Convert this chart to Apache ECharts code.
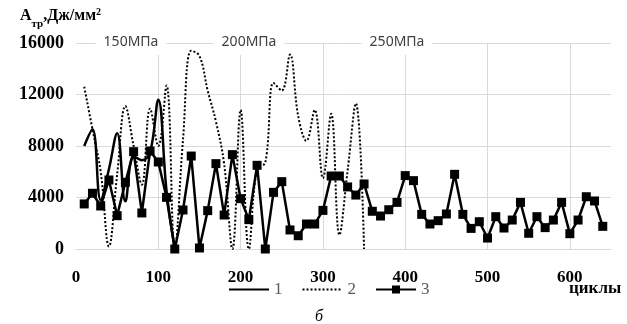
<!DOCTYPE html>
<html>
<head>
<meta charset="utf-8">
<script src="https://cdn.jsdelivr.net/npm/echarts@6/dist/echarts.min.js"></script>
<style>
  html, body { margin: 0; padding: 0; background: #fff; }
  #chart { width: 627px; height: 324px; }
</style>
</head>
<body>
<div id="chart"></div>
<script>
// кривая 1 (сплошная)
const cycles1 = [10, 20, 30, 40, 50, 60, 70, 80, 90, 100, 110, 120];
const work1 = [8000, 9300, 3800, 6200, 9000, 3700, 7200, 6900, 7500, 11600, 4500, 0];

// кривая 2 (пунктир)
const cycles2 = [10, 20, 30, 40, 50, 60, 70, 80, 90, 100, 110, 120, 130, 140, 150, 160, 170, 180,
  190, 200, 210, 220, 230, 240, 250, 260, 270, 280, 290, 300, 310, 320, 330, 340, 350];
const work2 = [12600, 9300, 6000, 200, 5800, 11100, 8000, 5000, 10900, 8000, 12700, 0, 8500, 15400,
  15000, 12300, 9900, 6600, 0, 10800, 0, 6300, 6700, 12900, 12300, 15100, 10300, 8400, 10800,
  5500, 10500, 1100, 6100, 11300, 0];

// кривая 3 (с маркерами)
const cycles3 = [10, 20, 30, 40, 50, 60, 70, 80, 90, 100, 110, 120, 130, 140, 150, 160, 170, 180,
  190, 200, 210, 220, 230, 240, 250, 260, 270, 280, 290, 300, 310, 320, 330, 340, 350, 360, 370,
  380, 390, 400, 410, 420, 430, 440, 450, 460, 470, 480, 490, 500, 510, 520, 530, 540, 550, 560,
  570, 580, 590, 600, 610, 620, 630, 640];
const work3 = [3500, 4330, 3340, 5360, 2590, 5180, 7560, 2800, 7610, 6760, 4010, 0, 3030, 7220, 80,
  2980, 6630, 2640, 7330, 3910, 2280, 6500, 0, 4400, 5230, 1480, 1030, 1940, 1940, 3000, 5670,
  5670, 4820, 4190, 5050, 2930, 2560, 3050, 3620, 5700, 5310, 2690, 1940, 2200, 2720, 5800, 2690,
  1600, 2120, 850, 2510, 1630, 2250, 3620, 1220, 2510, 1660, 2250, 3620, 1190, 2250, 4060, 3730, 1760];

const yTicks = [0, 4000, 8000, 12000, 16000];
const stressLabels = ['150МПа', '200МПа', '250МПа'];

const pairs = (xs, ys) => xs.map((x, i) => [x, ys[i]]);

const serif = '"Liberation Serif", "DejaVu Serif", serif';
const myChart = echarts.init(document.getElementById('chart'));

const labelStyle = (text, x) => ({
  type: 'text',
  x: x,
  y: 42,
  z: 100,
  style: {
    text: text,
    fill: '#404040',
    font: '14px "Noto Sans", sans-serif',
    align: 'center',
    verticalAlign: 'middle',
    backgroundColor: '#fff',
    padding: [6, 8]
  }
});

const option = {
  animation: false,
  grid: { left: 76, right: 16, top: 43, bottom: 75 },
  legend: {
    data: [
      { name: '1', itemStyle: { opacity: 0 } },
      { name: '2', itemStyle: { opacity: 0 } },
      { name: '3' }
    ],
    left: 228,
    top: 281,
    padding: 0,
    itemWidth: 40,
    itemHeight: 10,
    itemGap: 19,
    textStyle: { color: '#595959', fontFamily: serif, fontSize: 17 }
  },
  xAxis: {
    type: 'value',
    min: 0,
    max: 650,
    interval: 100,
    axisLine: { show: true, lineStyle: { color: '#d9d9d9', width: 1 } },
    axisTick: { show: false },
    axisLabel: {
      showMaxLabel: false,
      margin: 20,
      color: '#000',
      fontFamily: serif,
      fontWeight: 'bold',
      fontSize: 17,
      formatter: v => String(v)
    },
    splitLine: {
      show: true,
      showMinLine: false,
      showMaxLine: false,
      lineStyle: { color: '#d9d9d9', width: 1 }
    }
  },
  yAxis: {
    type: 'value',
    min: yTicks[0],
    max: yTicks[yTicks.length - 1],
    interval: 4000,
    axisLine: { show: false },
    axisTick: { show: false },
    axisLabel: {
      margin: 12,
      color: '#000',
      fontFamily: serif,
      fontWeight: 'bold',
      fontSize: 18,
      formatter: v => String(v)
    },
    splitLine: { lineStyle: { color: '#d9d9d9', width: 1 } }
  },
  graphic: [
    {
      type: 'text',
      left: 20,
      top: 5,
      style: {
        text: '{a|А}{s|тр}{a|,Дж/мм}{p|2}',
        rich: {
          a: { fontFamily: serif, fontWeight: 'bold', fontSize: 16, lineHeight: 22, fill: '#000' },
          s: { fontFamily: serif, fontWeight: 'bold', fontSize: 11, lineHeight: 22, verticalAlign: 'bottom', padding: [0, 0, -3, 0], fill: '#000' },
          p: { fontFamily: serif, fontWeight: 'bold', fontSize: 10, lineHeight: 22, verticalAlign: 'top', padding: [2, 0, 0, 0], fill: '#000' }
        }
      }
    },
    labelStyle(stressLabels[0], 131),
    labelStyle(stressLabels[1], 249),
    labelStyle(stressLabels[2], 397),
    {
      type: 'text',
      left: 569,
      top: 280,
      style: { text: 'циклы', font: 'bold 17px ' + serif, fill: '#000' }
    },
    {
      type: 'text',
      left: 315,
      top: 309,
      style: { text: 'б', font: 'italic 16px ' + serif, fill: '#000' }
    }
  ],
  series: [
    {
      name: '1',
      type: 'line',
      smooth: 0.4,
      showSymbol: false,
      symbol: 'none',
      lineStyle: { color: '#000', width: 2.5 },
      itemStyle: { color: '#000' },
      data: pairs(cycles1, work1)
    },
    {
      name: '2',
      type: 'line',
      smooth: 0.4,
      showSymbol: false,
      symbol: 'none',
      lineStyle: { color: '#000', width: 2, type: 'dotted' },
      itemStyle: { color: '#000' },
      data: pairs(cycles2, work2)
    },
    {
      name: '3',
      type: 'line',
      symbol: 'rect',
      symbolSize: 9,
      lineStyle: { color: '#000', width: 2.5 },
      itemStyle: { color: '#000' },
      data: pairs(cycles3, work3)
    }
  ]
};

myChart.setOption(option);
</script>
</body>
</html>
